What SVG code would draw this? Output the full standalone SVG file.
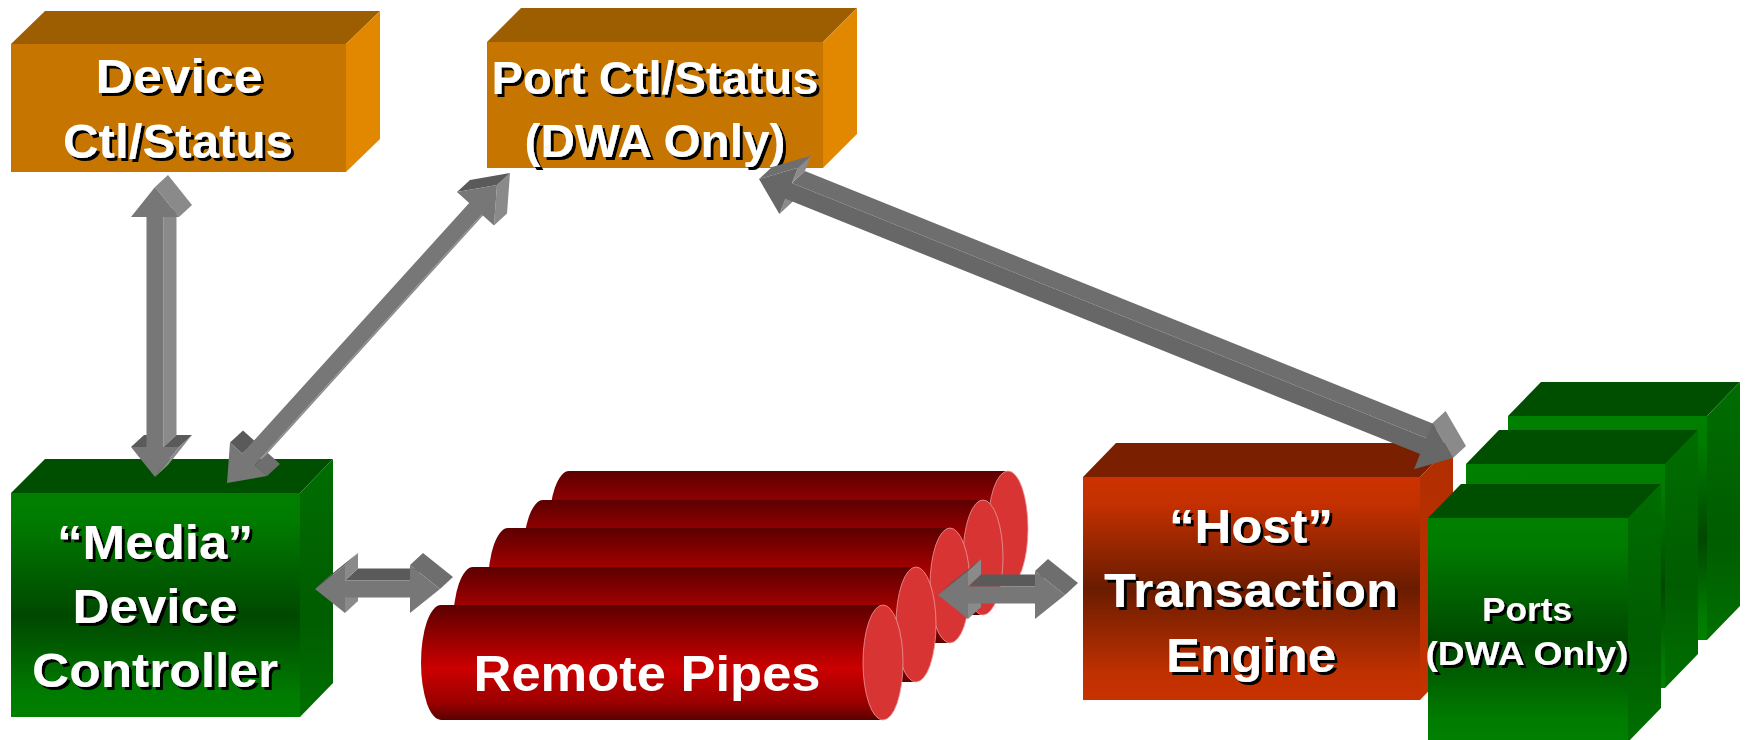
<svg xmlns="http://www.w3.org/2000/svg" width="1745" height="740" viewBox="0 0 1745 740">
<defs>
<linearGradient id="gGreen" x1="0" y1="0" x2="0" y2="1">
<stop offset="0" stop-color="#008000"/><stop offset="0.12" stop-color="#007c00"/><stop offset="0.55" stop-color="#004800"/><stop offset="0.9" stop-color="#007c00"/><stop offset="1" stop-color="#008000"/>
</linearGradient>
<linearGradient id="gGreenSide" x1="0" y1="0" x2="0" y2="1">
<stop offset="0" stop-color="#006e00"/><stop offset="0.6" stop-color="#005c00"/><stop offset="1" stop-color="#007000"/>
</linearGradient>
<linearGradient id="gHost" x1="0" y1="0" x2="0" y2="1">
<stop offset="0" stop-color="#cc3300"/><stop offset="0.12" stop-color="#c43000"/><stop offset="0.5" stop-color="#6a1c00"/><stop offset="0.88" stop-color="#c03000"/><stop offset="1" stop-color="#c83200"/>
</linearGradient>
<linearGradient id="gHostSide" x1="0" y1="0" x2="0" y2="1">
<stop offset="0" stop-color="#b02e00"/><stop offset="1" stop-color="#c43200"/>
</linearGradient>
<linearGradient id="gPipe" x1="0" y1="0" x2="0" y2="1">
<stop offset="0" stop-color="#5c0000"/><stop offset="0.55" stop-color="#cc0000"/><stop offset="0.85" stop-color="#9a0000"/><stop offset="1" stop-color="#5a0000"/>
</linearGradient>
<filter id="sh" x="-10%" y="-10%" width="130%" height="130%">
<feDropShadow dx="3" dy="3" stdDeviation="0" flood-color="#000" flood-opacity="1"/>
</filter>
</defs>
<style>
.lbl{font-family:"Liberation Sans",Arial,sans-serif;font-weight:bold;fill:#fff;text-anchor:middle}
.shd{filter:url(#sh)}
.oF{fill:#c67600}.oT{fill:#9c5e00}.oR{fill:#e28800}
.gF{fill:url(#gGreen)}.gT{fill:#004f00}.gR{fill:url(#gGreenSide)}
.hF{fill:url(#gHost)}.hT{fill:#7a2000}.hR{fill:url(#gHostSide)}
.pB{fill:url(#gPipe)}.pE{fill:#d83434;stroke:#e89a9a;stroke-width:0.8}
.af{fill:#777}.al{fill:#8a8a8a}.ad{fill:#5a5a5a}.am{fill:#6e6e6e}.cf{fill:#676767}
</style>
<rect width="1745" height="740" fill="#fff"/>

<g id="device-ctl">
<polygon class="oT" points="11,44 45,11 380,11 346,44"/>
<polygon class="oR" points="346,44 380,11 380,139 346,172"/>
<rect class="oF" x="11" y="44" width="335" height="128"/>
<text class="lbl shd" font-size="49" x="179" y="93" textLength="167" lengthAdjust="spacingAndGlyphs">Device</text>
<text class="lbl shd" font-size="49" x="178" y="158" textLength="230" lengthAdjust="spacingAndGlyphs">Ctl/Status</text>
</g>

<g id="port-ctl">
<polygon class="oT" points="487,42 521,8 857,8 823,42"/>
<polygon class="oR" points="823,42 857,8 857,134 823,168"/>
<rect class="oF" x="487" y="42" width="336" height="126"/>
<text class="lbl shd" font-size="47" x="655" y="94" textLength="327" lengthAdjust="spacingAndGlyphs">Port Ctl/Status</text>
<text class="lbl shd" font-size="47" x="655" y="157" textLength="261" lengthAdjust="spacingAndGlyphs">(DWA Only)</text>
</g>

<g id="media-controller">
<polygon class="gT" points="11,493 45,459 333,459 300,493"/>
<polygon class="gR" points="300,493 333,459 333,683 300,717"/>
<rect class="gF" x="11" y="493" width="289" height="224"/>
<text class="lbl shd" font-size="49" x="155" y="559" textLength="196" lengthAdjust="spacingAndGlyphs">“Media”</text>
<text class="lbl shd" font-size="49" x="155" y="623" textLength="165" lengthAdjust="spacingAndGlyphs">Device</text>
<text class="lbl shd" font-size="49" x="155" y="687" textLength="246" lengthAdjust="spacingAndGlyphs">Controller</text>
</g>

<g id="remote-pipes">
<path class="pB" d="M569,471 L1008,471 L1008,586 L569,586 A20,57.5 0 0 1 569,471 Z"/>
<ellipse class="pE" cx="1008" cy="528.5" rx="20" ry="57.5"/>
<path class="pB" d="M543,500 L983,500 L983,615 L543,615 A20,57.5 0 0 1 543,500 Z"/>
<ellipse class="pE" cx="983" cy="557.5" rx="20" ry="57.5"/>
<path class="pB" d="M508,528 L950,528 L950,643 L508,643 A20,57.5 0 0 1 508,528 Z"/>
<ellipse class="pE" cx="950" cy="585.5" rx="20" ry="57.5"/>
<path class="pB" d="M473,567 L916,567 L916,682 L473,682 A20,57.5 0 0 1 473,567 Z"/>
<ellipse class="pE" cx="916" cy="624.5" rx="20" ry="57.5"/>
<path class="pB" d="M441,605 L883,605 L883,720 L441,720 A20,57.5 0 0 1 441,605 Z"/>
<ellipse class="pE" cx="883" cy="662.5" rx="20" ry="57.5"/>
<text class="lbl" font-size="50" x="647" y="691" textLength="347" lengthAdjust="spacingAndGlyphs">Remote Pipes</text>
</g>

<g id="host-engine">
<polygon class="hT" points="1083,477 1116,443 1453,443 1420,477"/>
<polygon class="hR" points="1420,477 1453,443 1453,666 1420,700"/>
<rect class="hF" x="1083" y="477" width="337" height="223"/>
<text class="lbl shd" font-size="49" x="1251" y="543" textLength="164" lengthAdjust="spacingAndGlyphs">“Host”</text>
<text class="lbl shd" font-size="49" x="1251" y="607" textLength="294" lengthAdjust="spacingAndGlyphs">Transaction</text>
<text class="lbl shd" font-size="49" x="1251" y="672" textLength="170" lengthAdjust="spacingAndGlyphs">Engine</text>
</g>

<g id="ports">
<polygon class="gT" points="1508,416 1541,382 1740,382 1707,416"/>
<polygon class="gR" points="1707,416 1740,382 1740,606 1707,640"/>
<rect class="gF" x="1508" y="416" width="199" height="224"/>
<polygon class="gT" points="1466,464 1499,430 1698,430 1665,464"/>
<polygon class="gR" points="1665,464 1698,430 1698,654 1665,688"/>
<rect class="gF" x="1466" y="464" width="199" height="224"/>
<polygon class="gT" points="1428,518 1461,484 1661,484 1628,518"/>
<polygon class="gR" points="1628,518 1661,484 1661,708 1628,742"/>
<rect class="gF" x="1428" y="518" width="200" height="224"/>
<text class="lbl shd" font-size="34" x="1527" y="621" textLength="90" lengthAdjust="spacingAndGlyphs">Ports</text>
<text class="lbl shd" font-size="34" x="1527" y="665" textLength="203" lengthAdjust="spacingAndGlyphs">(DWA Only)</text>
</g>

<g id="connectors">
<g id="arrow-device-media">
<polygon class="al" points="163.5,447 163.5,217 176.5,205 176.5,435"/>
<polygon class="ad" points="146.5,447 131,447 144,435 159.5,435"/>
<polygon class="ad" points="179,447 163.5,447 176.5,435 192,435"/>
<polygon class="al" points="155,477 179,447 192,435 168,465"/>
<polygon class="al" points="179,217 155,187 168,175 192,205"/>
<polygon class="af" points="155,187 131,217 146.5,217 146.5,447 131,447 155,477 179,447 163.5,447 163.5,217 179,217"/>
</g>
<g id="arrow-port-media">
<polygon class="al" points="254.8,465 481.8,214.4 494.8,202.4 267.8,453"/>
<polygon class="am" points="267,476.1 254.8,465 267.8,453 280,464.1"/>
<polygon class="ad" points="242.2,453.6 230,442.5 243,430.5 255.2,441.6"/>
<polygon class="al" points="494,225.5 497,185 510,173 507,213.5"/>
<polygon class="ad" points="497,185 457,191.9 470,179.9 510,173"/>
<polygon class="af" points="227,483 267,476.1 254.8,465 481.8,214.4 494,225.5 497,185 457,191.9 469.2,203 242.2,453.6 230,442.5"/>
</g>
<g id="arrow-port-ports">
<polygon class="am" points="1426.5,438.2 791.9,183.1 804.9,171.1 1439.5,426.2"/>
<polygon class="al" points="779.4,214.1 785.5,198.8 798.5,186.8 792.4,202.1"/>
<polygon class="al" points="791.9,183.1 798,167.7 811,155.7 804.9,171.1"/>
<polygon class="am" points="798,167.7 759,179 772,167 811,155.7"/>
<polygon class="al" points="1453,458 1432.6,422.9 1445.6,410.9 1466,446"/>
<polygon class="cf" points="759,179 779.4,214.1 785.5,198.8 1420.1,454 1414,469.3 1453,458 1432.6,422.9 1426.5,438.2 791.9,183.1 798,167.7"/>
</g>
<g id="arrow-media-pipes">
<polygon class="ad" points="410,580.5 345,580.5 358,568.5 423,568.5"/>
<polygon class="al" points="345,613 345,597.5 358,585.5 358,601"/>
<polygon class="al" points="345,580.5 345,565 358,553 358,568.5"/>
<polygon class="ad" points="345,565 315,589 328,577 358,553"/>
<polygon class="am" points="440,589 410,565 423,553 453,577"/>
<polygon class="af" points="315,589 345,613 345,597.5 410,597.5 410,613 440,589 410,565 410,580.5 345,580.5 345,565"/>
</g>
<g id="arrow-pipes-host">
<polygon class="ad" points="1035,586.5 968,586.5 981,574.5 1048,574.5"/>
<polygon class="al" points="968,619 968,603.5 981,591.5 981,607"/>
<polygon class="al" points="968,586.5 968,571 981,559 981,574.5"/>
<polygon class="ad" points="968,571 938,595 951,583 981,559"/>
<polygon class="am" points="1065,595 1035,571 1048,559 1078,583"/>
<polygon class="af" points="938,595 968,619 968,603.5 1035,603.5 1035,619 1065,595 1035,571 1035,586.5 968,586.5 968,571"/>
</g>
</g>
</svg>
